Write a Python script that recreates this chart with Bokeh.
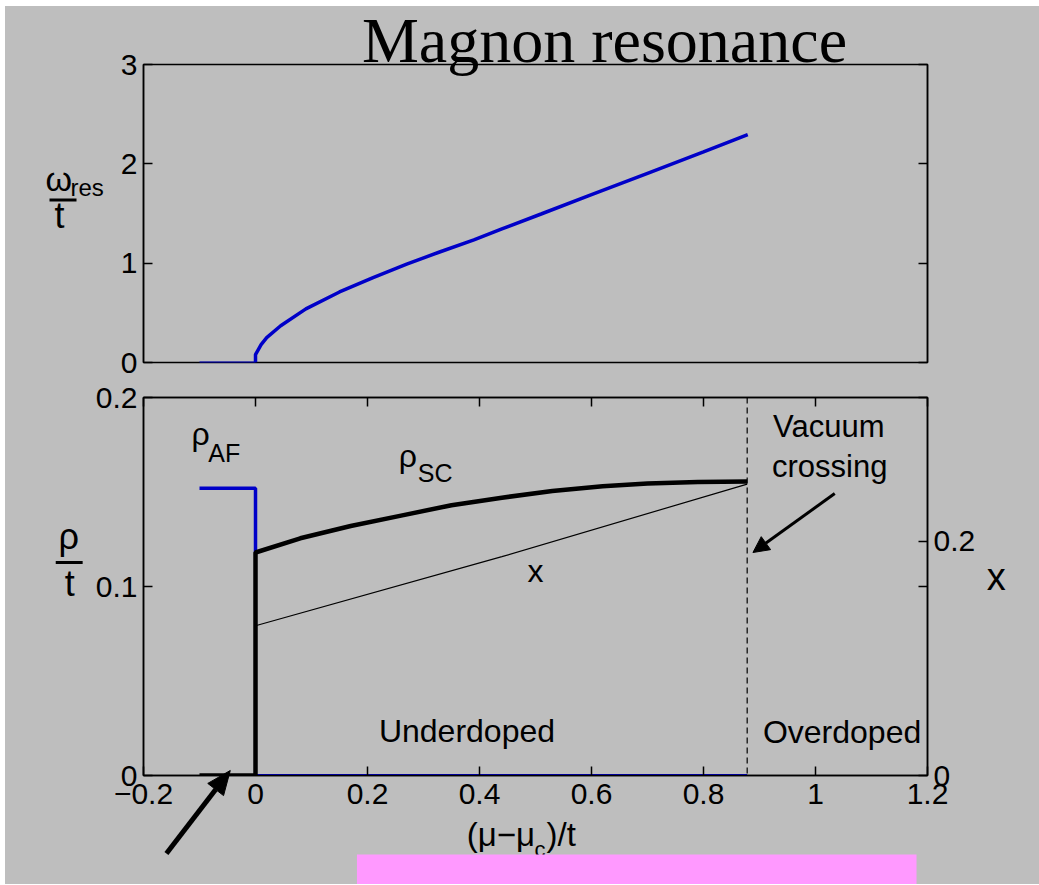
import math
from bokeh.plotting import figure
from bokeh.models import (Range1d, LinearAxis, FixedTicker, Span, Arrow, NormalHead)
from bokeh.core.properties import value
from bokeh.layouts import column
from bokeh.embed import file_html
from bokeh.resources import INLINE

# ---------------- data ----------------
# top panel: magnon resonance energy omega_res/t versus (mu-mu_c)/t
omega_mu_flat = [-0.1, 0.0]
omega_flat = [0.0, 0.0]
omega_mu = [0.0, 0.0, 0.01, 0.02, 0.045, 0.09, 0.15, 0.21, 0.27, 0.33, 0.39,
            0.44, 0.51, 0.6, 0.7, 0.8, 0.879]
omega_res = [0.0, 0.08, 0.18, 0.25, 0.37, 0.54, 0.71, 0.855, 0.99, 1.115, 1.235,
             1.345, 1.495, 1.69, 1.905, 2.12, 2.295]

# bottom panel: stiffnesses rho/t and doping x
mu_af = [-0.1, 0.0, 0.0]
rho_af = [0.152, 0.152, 0.118]
mu_af_zero = [0.0, 0.878]
rho_af_zero = [0.0, 0.0]
mu_sc = [-0.1, 0.0, 0.0, 0.08, 0.17, 0.26, 0.35, 0.44, 0.53, 0.62, 0.70, 0.79, 0.878]
rho_sc = [0.0, 0.0, 0.118, 0.1255, 0.132, 0.1375, 0.143, 0.147, 0.1505, 0.153,
          0.1545, 0.1553, 0.1556]
mu_x = [0.0, 0.44, 0.878]
x_doping = [0.128, 0.187, 0.249]
mu_vacuum = 0.878

x_ticks = [-0.2, 0.0, 0.2, 0.4, 0.6, 0.8, 1.0, 1.2]
x_tick_labels = ["\u22120.2", "0", "0.2", "0.4", "0.6", "0.8", "1", "1.2"]
omega_ticks = [0, 1, 2, 3]
omega_tick_labels = ["0", "1", "2", "3"]
rho_ticks = [0.0, 0.1, 0.2]
rho_tick_labels = ["0", "0.1", "0.2"]
dop_ticks = [0.0, 0.2]
dop_tick_labels = ["0", "0.2"]

# ---------------- style ----------------
GRAY = "#BEBEBE"
BLUE = "#0000C8"
PINK = "#FF99FF"
SANS = "Liberation Sans"
SERIF = "Liberation Serif"
W = 1034
TICK_FS = "30px"

X_LO, X_HI = -0.2, 1.2
OM_HI = 3.0
RHO_HI = 0.2
DOP_HI = 0.323
BASE_SHIFT = 0.4   # baseline correction (fraction of font size)


def style_axis(ax, ticks, labels=None, show_labels=True):
    ax.ticker = FixedTicker(ticks=ticks)
    ax.major_tick_in = 9
    ax.major_tick_out = 0
    ax.minor_tick_line_color = None
    ax.axis_line_width = 1.5
    ax.axis_line_color = "black"
    ax.major_tick_line_color = "black"
    ax.major_tick_line_width = 1.5
    ax.major_label_text_font = SANS
    ax.major_label_text_color = "black"
    ax.major_label_standoff = 6
    if show_labels:
        ax.major_label_text_font_size = TICK_FS
        if labels is not None:
            ax.major_label_overrides = {t: l for t, l in zip(ticks, labels)}
    else:
        ax.major_label_text_color = None
        ax.major_label_text_font_size = "1px"
        ax.major_label_standoff = 0


def make_txt(p, fx, fy):
    def txt(px, py, text, size, font=SANS, align="left"):
        p.text(x=[fx(px)], y=[fy(py - BASE_SHIFT * size)], text=[text],
               text_font=value(font), text_font_size=value(f"{size}px"),
               text_align=align, text_baseline="alphabetic", text_color="black",
               level="overlay")
    return txt


def make_seg(p, fx, fy):
    def seg(px0, py0, px1, py1, width):
        p.segment(x0=[fx(px0)], y0=[fy(py0)], x1=[fx(px1)], y1=[fy(py1)],
                  line_color="black", line_width=width, level="overlay")
    return seg


# ---------------- top panel ----------------
# page frame: x 143..927, y 64..362 (layout offset 5, 6)
p1 = figure(width=W, height=374, x_range=Range1d(X_LO, X_HI), y_range=Range1d(0, OM_HI),
            output_backend="svg", toolbar_location=None,
            min_border_left=138, min_border_right=112, min_border_top=58, min_border_bottom=18,
            background_fill_color=GRAY, border_fill_color=GRAY,
            outline_line_color="black", outline_line_width=1.5)
p1.grid.visible = False
p1.xaxis.visible = False
style_axis(p1.yaxis[0], omega_ticks, omega_tick_labels)
r1 = LinearAxis()
style_axis(r1, omega_ticks, show_labels=False)
p1.add_layout(r1, "right")

p1.line(omega_mu_flat, omega_flat, line_color=BLUE, line_width=2)
p1.line(omega_mu, omega_res, line_color=BLUE, line_width=3.5)


def X1(px):
    return X_LO + (px - 143) / 784 * (X_HI - X_LO)


def Y1(py):
    return (362 - py) / 298 * OM_HI


t1 = make_txt(p1, X1, Y1)
s1 = make_seg(p1, X1, Y1)
t1(604, 66, "Magnon resonance", 64, font=SERIF, align="center")
t1(45, 192, "\u03c9", 34)
t1(70, 197, "res", 24)
s1(49, 199.5, 76, 199.5, 3)
t1(59, 229, "t", 36, align="center")

# ---------------- bottom panel ----------------
# page frame: x 143..929, y 397..775
p2 = figure(width=W, height=504, x_range=Range1d(X_LO, X_HI), y_range=Range1d(0, RHO_HI),
            output_backend="svg", toolbar_location=None,
            min_border_left=138, min_border_right=110, min_border_top=17, min_border_bottom=109,
            background_fill_color=GRAY, border_fill_color=GRAY,
            outline_line_color="black", outline_line_width=1.5)
p2.grid.visible = False
style_axis(p2.xaxis[0], x_ticks, x_tick_labels)
p2.xaxis[0].major_label_standoff = 8
style_axis(p2.yaxis[0], rho_ticks, rho_tick_labels)
top_ax = LinearAxis()
style_axis(top_ax, x_ticks, show_labels=False)
p2.add_layout(top_ax, "above")

p2.extra_y_ranges = {"doping": Range1d(0, DOP_HI)}
rax = LinearAxis(y_range_name="doping")
style_axis(rax, dop_ticks, dop_tick_labels)
rax.ticker = FixedTicker(ticks=dop_ticks, minor_ticks=[0.1 * DOP_HI / RHO_HI, DOP_HI])
rax.minor_tick_in = 9
rax.minor_tick_out = 0
rax.minor_tick_line_color = "black"
rax.minor_tick_line_width = 1.5
p2.add_layout(rax, "right")

p2.add_layout(Span(location=mu_vacuum, dimension="height", line_color="black",
                   line_dash="6 4", line_width=1.2))
p2.line(mu_af_zero, rho_af_zero, line_color=BLUE, line_width=3)
p2.line(mu_af, rho_af, line_color=BLUE, line_width=3.5)
p2.line(mu_x, x_doping, y_range_name="doping", line_color="black", line_width=1.2)
p2.line(mu_sc, rho_sc, line_color="black", line_width=4.5)


def X2(px):
    return X_LO + (px - 143) / 786 * (X_HI - X_LO)


def Y2(py):
    return (775 - py) / 378 * RHO_HI


t2 = make_txt(p2, X2, Y2)
s2 = make_seg(p2, X2, Y2)
t2(191, 446, "\u03c1", 32)
t2(208, 462, "AF", 25)
t2(399, 468, "\u03c1", 32)
t2(418, 482, "SC", 25)
t2(536, 583, "x", 32, align="center")
t2(379, 743, "Underdoped", 32)
t2(764, 744, "Overdoped", 32)
t2(830, 438, "Vacuum", 31, align="center")
t2(831, 478, "crossing", 31, align="center")

p2.add_layout(Arrow(end=NormalHead(size=16, fill_color="black", line_color="black"),
                    x_start=X2(836), y_start=Y2(493), x_end=X2(754), y_end=Y2(552),
                    line_width=3, line_color="black"))

# lower-left arrow (crosses the frame edge): shaft + head drawn as overlay glyphs
tail = (166.0, 853.0)
tip = (230.0, 770.0)
head_len, head_half = 24.0, 10.0
dx, dy = tip[0] - tail[0], tip[1] - tail[1]
L = math.hypot(dx, dy)
ux, uy = dx / L, dy / L
bx, by = tip[0] - head_len * ux, tip[1] - head_len * uy
nx, ny = -uy, ux
s2(tail[0], tail[1], bx, by, 5)
p2.patch(x=[X2(tip[0]), X2(bx + head_half * nx), X2(bx - head_half * nx)],
         y=[Y2(tip[1]), Y2(by + head_half * ny), Y2(by - head_half * ny)],
         fill_color="black", line_color="black", level="overlay")

# axis titles
t2(68, 550, "\u03c1", 36, align="center")
s2(55, 562, 82, 562, 3)
t2(69, 597, "t", 36, align="center")
t2(998, 592, "x", 38, align="center")
t2(467, 847, "(\u03bc\u2212\u03bc", 33)
t2(535, 858, "c", 22)
t2(547, 847, ")/t", 33)

# pink highlight box at the foot of the slide
p2.quad(left=[X2(357)], right=[X2(918)], top=[Y2(854)], bottom=[Y2(900)],
        fill_color=PINK, line_color=None, level="overlay")

layout = column(p1, p2, spacing=0, margin=(6, 0, 0, 5),
                styles={"background-color": GRAY})
open("out.html", "w").write(file_html(layout, INLINE))
